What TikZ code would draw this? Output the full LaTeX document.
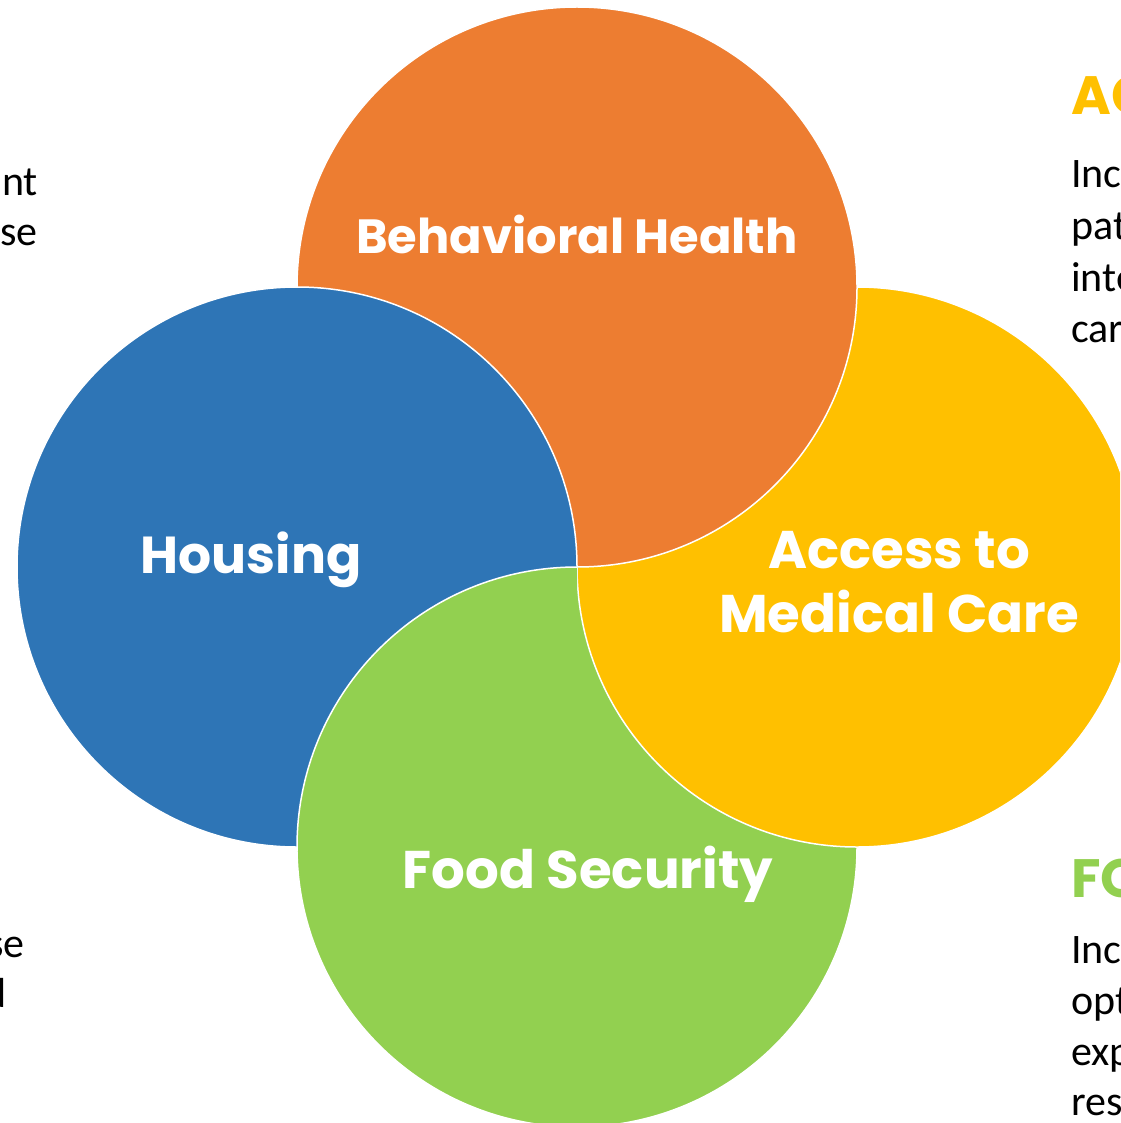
\documentclass[tikz,border=0pt]{standalone}
\usepackage{fontspec}
\setmainfont{Carlito}
\newfontfamily\poppins{Poppins}
\usepackage{tikz}

\definecolor{behorange}{HTML}{ED7D31}
\definecolor{housblue}{HTML}{2E75B6}
\definecolor{medyellow}{HTML}{FFC000}
\definecolor{foodgreen}{HTML}{92D050}

\begin{document}
\begin{tikzpicture}[x=1pt,y=-1pt,
	blob/.style={draw=white,line width=1.5pt},
	title/.style={text=white,inner sep=0pt,anchor=base,
		font=\poppins\bfseries\fontsize{53}{64}\selectfont},
	side/.style={inner sep=0pt,font=\fontsize{42}{51}\selectfont},
	head/.style={inner sep=0pt,anchor=base west,
		font=\poppins\bfseries\fontsize{54}{64}\selectfont}]
	\useasboundingbox (0,0) rectangle (1120,1123);
	\clip (0,0) rectangle (1120,1123);
	% circles, each one over the next
	\filldraw[blob,fill=foodgreen] (577,847) circle[radius=280];
	\filldraw[blob,fill=medyellow] (857,567) circle[radius=280];
	\filldraw[blob,fill=behorange] (577,287) circle[radius=280];
	\filldraw[blob,fill=housblue] (297,567) circle[radius=280];
	% green again, over the blue
	\begin{scope}
		\clip (0,0) rectangle (577,1123);
		\clip (297,567) circle[radius=284];
		\filldraw[blob,fill=foodgreen] (577,847) circle[radius=280];
	\end{scope}
	% labels
	\node[title,font=\poppins\bfseries\fontsize{48}{64}\selectfont] (behavioral) at (577,253) {Behavioral Health};
	\node[title,font=\poppins\bfseries\fontsize{52}{64}\selectfont] (housing) at (251,573) {Housing};
	\node[title] (access) at (899,568) {Access to};
	\node[title] (medical) at (899,632) {Medical Care};
	\node[title] (food) at (588,888) {Food Security};
	% text cut off at the left
	\node[side,anchor=base east] (lefta) at (38,196) {nt};
	\node[side,anchor=base east] (leftb) at (38,245) {se};
	\node[side,anchor=base east] (leftc) at (25,957) {se};
	\node[side,anchor=base east] (leftd) at (7,1007) {d};
	% text cut off at the right
	\node[head,text=medyellow] (achead) at (1071,115) {AC};
	\node[side,anchor=base west] (aca) at (1071,188) {Inc};
	\node[side,anchor=base west] (acb) at (1071,240) {pat};
	\node[side,anchor=base west] (acc) at (1071,291) {inte};
	\node[side,anchor=base west] (acd) at (1071,342) {car};
	\node[head,text=foodgreen] (fohead) at (1071,897) {FO};
	\node[side,anchor=base west] (foa) at (1071,963) {Inc};
	\node[side,anchor=base west] (fob) at (1071,1014) {opt};
	\node[side,anchor=base west] (foc) at (1071,1065) {exp};
	\node[side,anchor=base west] (fod) at (1071,1115) {res};
\end{tikzpicture}
\end{document}
